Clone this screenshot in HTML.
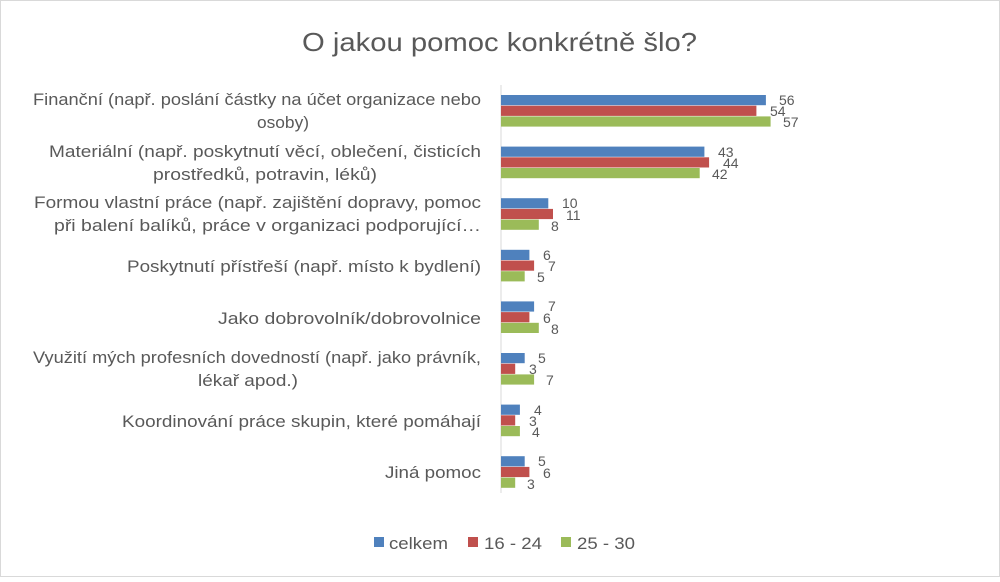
<!DOCTYPE html>
<html><head><meta charset="utf-8"><style>
body{margin:0;background:#fff}
svg text{font-family:"Liberation Sans",sans-serif;fill:#595959}
</style></head><body>
<svg width="1000" height="577" viewBox="0 0 1000 577" xmlns="http://www.w3.org/2000/svg">
<rect x="0.5" y="0.5" width="999" height="576" fill="#fff" stroke="#d9d9d9"/>
<text x="302" y="51" font-size="26" textLength="395" lengthAdjust="spacingAndGlyphs">O jakou pomoc konkrétně šlo?</text>
<line x1="501" y1="85" x2="501" y2="493" stroke="#d9d9d9" stroke-width="1"/>
<g font-size="17">
<text x="33" y="105" textLength="448" lengthAdjust="spacingAndGlyphs">Finanční (např. poslání částky na účet organizace nebo</text>
<text x="257" y="128" textLength="52" lengthAdjust="spacingAndGlyphs">osoby)</text>
<text x="49" y="157" textLength="432" lengthAdjust="spacingAndGlyphs">Materiální (např. poskytnutí věcí, oblečení, čisticích</text>
<text x="153" y="180" textLength="224" lengthAdjust="spacingAndGlyphs">prostředků, potravin, léků)</text>
<text x="34" y="208" textLength="447" lengthAdjust="spacingAndGlyphs">Formou vlastní práce (např. zajištění dopravy, pomoc</text>
<text x="54" y="231" textLength="427" lengthAdjust="spacingAndGlyphs">při balení balíků, práce v organizaci podporující…</text>
<text x="127" y="272" textLength="354" lengthAdjust="spacingAndGlyphs">Poskytnutí přístřeší (např. místo k bydlení)</text>
<text x="218" y="324" textLength="263" lengthAdjust="spacingAndGlyphs">Jako dobrovolník/dobrovolnice</text>
<text x="33" y="363" textLength="448" lengthAdjust="spacingAndGlyphs">Využití mých profesních dovedností (např. jako právník,</text>
<text x="198" y="386" textLength="100" lengthAdjust="spacingAndGlyphs">lékař apod.)</text>
<text x="122" y="427" textLength="359" lengthAdjust="spacingAndGlyphs">Koordinování práce skupin, které pomáhají</text>
<text x="385" y="478" textLength="96" lengthAdjust="spacingAndGlyphs">Jiná pomoc</text>
</g>
<g font-size="14">
<rect x="501" y="95" width="264.9" height="10.2" fill="#4f81bd"/><text x="779" y="105">56</text>
<rect x="501" y="105.7" width="255.4" height="10.2" fill="#c0504d"/><text x="770" y="116">54</text>
<rect x="501" y="116.4" width="269.6" height="10.2" fill="#9bbb59"/><text x="783" y="127">57</text>

<rect x="501" y="146.6" width="203.4" height="10.2" fill="#4f81bd"/><text x="718" y="157">43</text>
<rect x="501" y="157.3" width="208.1" height="10.2" fill="#c0504d"/><text x="723" y="168">44</text>
<rect x="501" y="168" width="198.7" height="10.2" fill="#9bbb59"/><text x="712" y="179">42</text>

<rect x="501" y="198.2" width="47.3" height="10.2" fill="#4f81bd"/><text x="562" y="208">10</text>
<rect x="501" y="208.9" width="52" height="10.2" fill="#c0504d"/><text x="566" y="220">11</text>
<rect x="501" y="219.6" width="37.8" height="10.2" fill="#9bbb59"/><text x="551" y="231">8</text>

<rect x="501" y="249.8" width="28.4" height="10.2" fill="#4f81bd"/><text x="543" y="260">6</text>
<rect x="501" y="260.5" width="33.1" height="10.2" fill="#c0504d"/><text x="548" y="271">7</text>
<rect x="501" y="271.2" width="23.7" height="10.2" fill="#9bbb59"/><text x="537" y="282">5</text>

<rect x="501" y="301.4" width="33.1" height="10.2" fill="#4f81bd"/><text x="548" y="311">7</text>
<rect x="501" y="312.1" width="28.4" height="10.2" fill="#c0504d"/><text x="543" y="323">6</text>
<rect x="501" y="322.8" width="37.8" height="10.2" fill="#9bbb59"/><text x="551" y="334">8</text>

<rect x="501" y="353" width="23.7" height="10.2" fill="#4f81bd"/><text x="538" y="363">5</text>
<rect x="501" y="363.7" width="14.2" height="10.2" fill="#c0504d"/><text x="529" y="374">3</text>
<rect x="501" y="374.4" width="33.1" height="10.2" fill="#9bbb59"/><text x="546" y="385">7</text>

<rect x="501" y="404.6" width="18.9" height="10.2" fill="#4f81bd"/><text x="534" y="415">4</text>
<rect x="501" y="415.3" width="14.2" height="10.2" fill="#c0504d"/><text x="529" y="426">3</text>
<rect x="501" y="426" width="18.9" height="10.2" fill="#9bbb59"/><text x="532" y="437">4</text>

<rect x="501" y="456.2" width="23.7" height="10.2" fill="#4f81bd"/><text x="538" y="466">5</text>
<rect x="501" y="466.9" width="28.4" height="10.2" fill="#c0504d"/><text x="543" y="478">6</text>
<rect x="501" y="477.6" width="14.2" height="10.2" fill="#9bbb59"/><text x="527" y="489">3</text>
</g>
<g font-size="17">
<rect x="374" y="537" width="10" height="10" fill="#4f81bd"/><text x="389" y="549" textLength="59" lengthAdjust="spacingAndGlyphs">celkem</text>
<rect x="468" y="537" width="10" height="10" fill="#c0504d"/><text x="484" y="549" textLength="58" lengthAdjust="spacingAndGlyphs">16 - 24</text>
<rect x="561" y="537" width="10" height="10" fill="#9bbb59"/><text x="577" y="549" textLength="58" lengthAdjust="spacingAndGlyphs">25 - 30</text>
</g>
</svg>
</body></html>
